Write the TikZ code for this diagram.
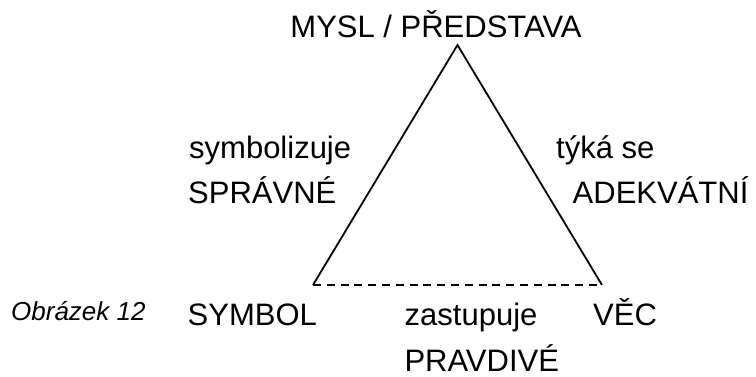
\documentclass[tikz,border=0pt]{standalone}
\usepackage{fontspec}
\setmainfont{Liberation Sans}
\begin{document}
\begin{tikzpicture}[x=1pt,y=-1pt,
  lbl/.style={anchor=base west,inner sep=0pt,font=\fontsize{31}{37}\selectfont},
  figcaption/.style={anchor=base west,inner sep=0pt,font=\fontsize{26}{31}\selectfont\itshape},
  side/.style={line width=1.8pt,line join=miter},
  baseline dash/.style={line width=1.8pt,dash pattern=on 8pt off 5.8pt}]
  \useasboundingbox (0,0) rectangle (756,376);
  % corners of the semiotic triangle
  \coordinate (top) at (457.5,45);
  \coordinate (left) at (313,285);
  \coordinate (right) at (602,285);
  \draw[side] (left) -- (top) -- (right);
  \draw[baseline dash] (left) -- (right);
  % labels
  \node[lbl,anchor=base] (mysl) at (436,37) {MYSL / PŘEDSTAVA};
  \node[lbl] (symb) at (189,158) {symbolizuje};
  \node[lbl] (spr) at (188,203) {SPRÁVNÉ};
  \node[lbl] (tyka) at (556,158) {týká se};
  \node[lbl] (ade) at (572.5,203) {ADEKVÁTNÍ};
  \node[figcaption] (obr) at (11,320) {Obrázek 12};
  \node[lbl] (symbol) at (187.5,325) {SYMBOL};
  \node[lbl] (zast) at (404.5,325) {zastupuje};
  \node[lbl] (vec) at (593,325) {VĚC};
  \node[lbl] (prav) at (404.3,371.5) {PRAVDIVÉ};
\end{tikzpicture}
\end{document}
